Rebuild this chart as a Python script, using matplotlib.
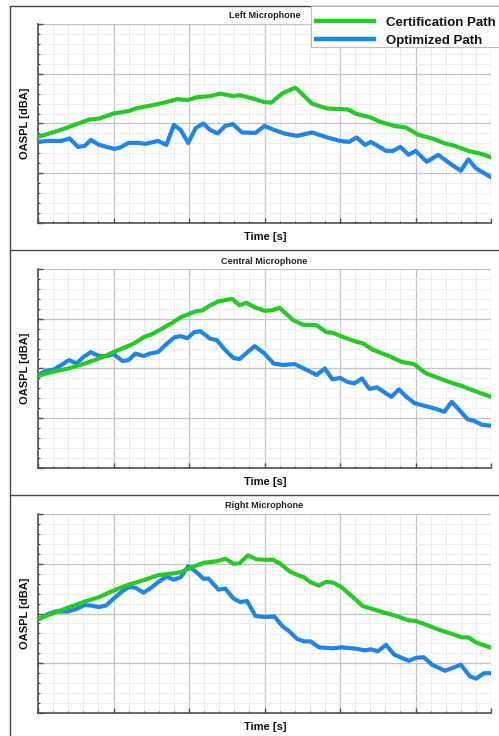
import matplotlib
matplotlib.use("Agg")
import matplotlib.pyplot as plt
from matplotlib.lines import Line2D
from matplotlib.patches import Rectangle
from matplotlib.ticker import MultipleLocator, NullFormatter
import numpy as np

plt.rcParams['font.family'] = ['Liberation Sans', 'DejaVu Sans']

# ---------------- data (time [s], OASPL [dBA]) ----------------
t_left_cert = [0, 3.0, 6.8, 8.1, 10.0, 12.0, 12.9, 15.9, 18.5, 19.8, 21.1, 22.8, 24.1, 25.9, 26.7, 28.0,
               30.0, 30.9, 32.4, 34.1, 36.3, 38.3, 40.0, 41.1, 42.2, 43.9, 45.4, 47.2, 48.7, 50.4,
               52.2, 53.9, 55.2, 57.0, 58.7, 60.0]
left_cert = [77.3, 78.7, 80.8, 81.0, 82.0, 82.5, 83.0, 83.9, 84.9, 84.7, 85.3, 85.5, 86.0, 85.5, 85.7, 85.2,
             84.3, 84.2, 86.1, 87.2, 84.0, 83.0, 82.9, 82.8, 81.9, 81.3, 80.3, 79.5, 79.2, 77.7,
             77.0, 76.0, 75.5, 74.5, 73.9, 73.2]

t_left_opt = [0, 1.2, 3.1, 4.2, 5.3, 6.2, 7.0, 8.1, 10.1, 10.9, 12.0, 13.3, 14.2, 15.9, 17.0, 18.0, 18.9,
              19.9, 20.9, 21.9, 22.8, 23.8, 24.8, 25.8, 27.0, 28.8, 30.0, 31.3, 32.6, 34.3, 36.3, 38.3,
              40.0, 41.2, 42.2, 43.3, 44.1, 46.1, 47.0, 48.0, 49.1, 50.0, 51.5, 53.0, 54.8, 56.0, 57.0,
              58.0, 60.0]
left_opt = [76.3, 76.5, 76.5, 77.0, 75.3, 75.5, 76.7, 75.7, 74.9, 75.2, 76.1, 76.1, 75.9, 76.5, 75.7, 79.7, 78.7,
            76.1, 79.1, 80.0, 78.7, 78.0, 79.5, 79.9, 78.2, 78.1, 79.5, 78.7, 78.0, 77.5, 78.2, 77.2,
            76.5, 76.3, 77.2, 75.7, 76.3, 74.5, 74.5, 75.3, 73.7, 74.5, 72.3, 73.7, 71.7, 70.5, 72.8,
            71.0, 69.2]

t_central_cert = [0, 1.85, 4.0, 6.4, 8.6, 10.0, 11.6, 12.9, 14.0, 15.1, 16.4, 17.6, 18.9, 19.9, 20.9, 21.8,
                  22.8, 23.9, 25.7, 26.7, 27.6, 28.7, 30.0, 31.0, 32.0, 33.8, 35.1, 36.9, 38.2, 39.0,
                  40.8, 42.3, 43.0, 44.3, 46.5, 48.2, 49.8, 51.3, 53.0, 55.0, 56.1, 57.8, 60.0]
central_cert = [78.5, 79.3, 80.0, 81.1, 82.3, 83.3, 84.3, 85.2, 86.3, 86.9, 88.0, 89.0, 90.3, 90.9, 91.5, 91.7,
                92.7, 93.5, 94.0, 92.7, 93.2, 92.3, 91.6, 91.7, 92.2, 89.7, 88.8, 88.7, 87.3, 87.2,
                86.1, 85.3, 85.1, 83.8, 82.5, 81.3, 80.9, 79.1, 78.1, 77.0, 76.5, 75.5, 74.3]

t_central_opt = [0, 1.0, 2.1, 3.1, 4.1, 5.1, 6.0, 7.0, 8.1, 9.2, 10.0, 11.2, 12.0, 12.9, 14.0, 14.8, 15.9,
                 17.0, 18.1, 18.9, 19.8, 20.7, 21.5, 22.8, 23.7, 24.8, 25.9, 26.7, 27.6, 28.7, 30.0,
                 31.2, 32.5, 34.0, 35.6, 36.9, 38.0, 39.0, 40.0, 41.0, 41.9, 42.9, 43.9, 44.9, 46.8,
                 47.8, 48.8, 49.9, 51.2, 52.7, 53.8, 54.8, 55.9, 56.9, 57.7, 58.8, 60.0]
central_opt = [78.7, 79.5, 79.8, 80.7, 81.7, 81.0, 82.3, 83.3, 82.5, 82.5, 82.9, 81.5, 81.7, 83.0, 82.5, 83.0, 83.3,
               84.9, 86.3, 86.5, 86.1, 87.3, 87.5, 86.0, 85.7, 83.7, 82.1, 81.9, 83.1, 84.5, 83.0,
               81.0, 80.7, 80.9, 79.7, 78.7, 80.0, 77.8, 78.1, 77.3, 77.0, 78.0, 75.9, 76.2, 74.3,
               75.8, 74.3, 73.0, 72.5, 71.9, 71.3, 73.3, 71.5, 69.8, 69.5, 68.7, 68.5]

t_right_cert = [0, 2.1, 4.2, 6.4, 8.1, 10.0, 12.0, 14.2, 15.9, 17.6, 18.9, 20.7, 22.0, 23.7, 24.8, 25.9,
                26.7, 27.8, 28.9, 30.0, 31.1, 32.0, 33.3, 34.1, 35.2, 36.1, 37.2, 38.2, 39.1, 40.2,
                41.7, 43.0, 44.3, 46.0, 47.5, 49.1, 50.0, 51.3, 53.0, 54.8, 56.1, 57.0, 58.0, 60.0]
right_cert = [78.9, 80.1, 81.3, 82.5, 83.3, 84.6, 85.8, 86.8, 87.7, 88.0, 88.3, 89.5, 90.2, 90.5, 91.0, 90.0,
              90.1, 91.7, 90.9, 90.8, 90.8, 90.1, 88.5, 87.9, 87.3, 86.3, 85.6, 86.4, 86.2, 85.3,
              83.3, 81.5, 80.9, 80.1, 79.5, 78.6, 78.5, 77.8, 76.8, 75.9, 75.2, 75.2, 74.2, 73.1]

t_right_opt = [0, 1.2, 2.3, 4.0, 5.1, 6.2, 7.0, 8.1, 9.0, 10.1, 11.2, 12.0, 12.9, 14.0, 15.1, 15.9, 17.0,
               18.0, 18.9, 19.9, 21.0, 21.9, 22.6, 23.9, 24.8, 25.9, 26.8, 27.7, 28.8, 30.0, 31.3,
               32.4, 33.3, 34.3, 35.2, 36.1, 37.2, 39.1, 40.2, 42.2, 43.3, 44.1, 45.0, 46.1, 47.2,
               49.1, 50.1, 51.1, 52.2, 53.9, 55.0, 56.0, 57.2, 58.0, 59.1, 60.0]
right_opt = [78.8, 79.8, 80.4, 80.4, 80.9, 81.7, 81.6, 81.3, 81.6, 83.1, 84.5, 85.3, 85.2, 84.2, 85.3, 86.3, 87.4,
             86.8, 87.3, 89.5, 88.3, 87.0, 87.0, 84.8, 85.0, 83.0, 82.3, 82.5, 79.5, 79.3, 79.4,
             77.4, 76.4, 74.9, 74.4, 74.4, 73.2, 73.0, 73.2, 72.9, 72.6, 72.8, 72.4, 73.7, 71.7,
             70.5, 71.1, 71.2, 69.7, 68.5, 69.1, 69.7, 67.4, 66.9, 68.0, 68.0]

titles = ["Left Microphone", "Central Microphone", "Right Microphone"]
series = [
    (t_left_cert, left_cert, t_left_opt, left_opt),
    (t_central_cert, central_cert, t_central_opt, central_opt),
    (t_right_cert, right_cert, t_right_opt, right_opt),
]
labels = ["Certification Path", "Optimized Path"]

# ---------------- figure ----------------
W, H = 499, 736
fig = plt.figure(figsize=(W / 100, H / 100), dpi=100)
fig.patch.set_facecolor('white')

green = '#27c927'
blue = '#1f85e6'
spine_c = '#505050'

def fx(px):
    return px / W

def fy(py):
    return 1 - py / H

ax_left, ax_right = 38, 491
tops = [24, 269, 514]
ax_h = 199

for i, (tc, yc, to, yo) in enumerate(series):
    top = tops[i]
    ax = fig.add_axes([fx(ax_left), fy(top + ax_h), (ax_right - ax_left) / W, ax_h / H])
    ax.plot(to, yo, color=blue, lw=3.0, solid_joinstyle='round', solid_capstyle='round', zorder=3)
    ax.plot(tc, yc, color=green, lw=3.0, solid_joinstyle='round', solid_capstyle='round', zorder=3)
    ax.set_xlim(0, 60)
    ax.set_ylim(60, 100)
    ax.xaxis.set_major_locator(MultipleLocator(10))
    ax.xaxis.set_minor_locator(MultipleLocator(2))
    ax.yaxis.set_major_locator(MultipleLocator(10))
    ax.yaxis.set_minor_locator(MultipleLocator(2))
    ax.xaxis.set_major_formatter(NullFormatter())
    ax.yaxis.set_major_formatter(NullFormatter())
    ax.grid(which='major', color='#c4c4c4', lw=0.9)
    ax.grid(which='minor', color='#ededed', lw=0.7)
    ax.set_axisbelow(True)
    for s in ['top', 'right']:
        ax.spines[s].set_visible(False)
    for s in ['left', 'bottom']:
        ax.spines[s].set_color(spine_c)
        ax.spines[s].set_linewidth(1.2)
    ax.tick_params(which='major', direction='in', length=3.5, width=1.0, color=spine_c)
    ax.tick_params(which='minor', direction='in', length=1.6, width=0.8, color=spine_c)

    fig.text(fx((ax_left + ax_right) / 2), fy(top - 8), titles[i], ha='center', va='center',
             fontsize=6.6, fontweight='bold', color='#222222')
    fig.text(fx((ax_left + ax_right) / 2 + 1), fy(top + ax_h + 14), "Time [s]", ha='center', va='center',
             fontsize=8, fontweight='bold', color='#111111')
    fig.text(fx(25), fy(top + ax_h / 2), "OASPL [dBA]", ha='center', va='center', rotation=90,
             fontsize=8, fontweight='bold', color='#111111')

# panel frames
frame_c = '#4a4a4a'
fig.add_artist(Line2D([fx(10), fx(10)], [fy(6), 0], color=frame_c, lw=1.0))
for py in [6, 250, 495]:
    fig.add_artist(Line2D([fx(10), 1], [fy(py), fy(py)], color=frame_c, lw=1.0))

# legend box (white, light border) then legend entries
fig.add_artist(Rectangle((fx(311), fy(47)), fx(500) - fx(311), fy(6) - fy(47),
                         transform=fig.transFigure, facecolor='white', edgecolor='#bdbdbd',
                         lw=0.8, zorder=4))
handles = [Line2D([], [], color=green, lw=3.2, solid_capstyle='butt'),
           Line2D([], [], color=blue, lw=3.2, solid_capstyle='butt')]
leg = fig.legend(handles, labels, loc='upper left', bbox_to_anchor=(fx(311), fy(13.5)),
                 prop={'family': 'Liberation Sans', 'weight': 'bold', 'size': 9.5},
                 frameon=False, borderpad=0.25, labelspacing=0.4,
                 handlelength=4.7, handletextpad=0.75, borderaxespad=0)
leg.set_zorder(6)
for txt in leg.get_texts():
    txt.set_color('#111111')

fig.savefig('out.png', dpi=100, facecolor='white')
